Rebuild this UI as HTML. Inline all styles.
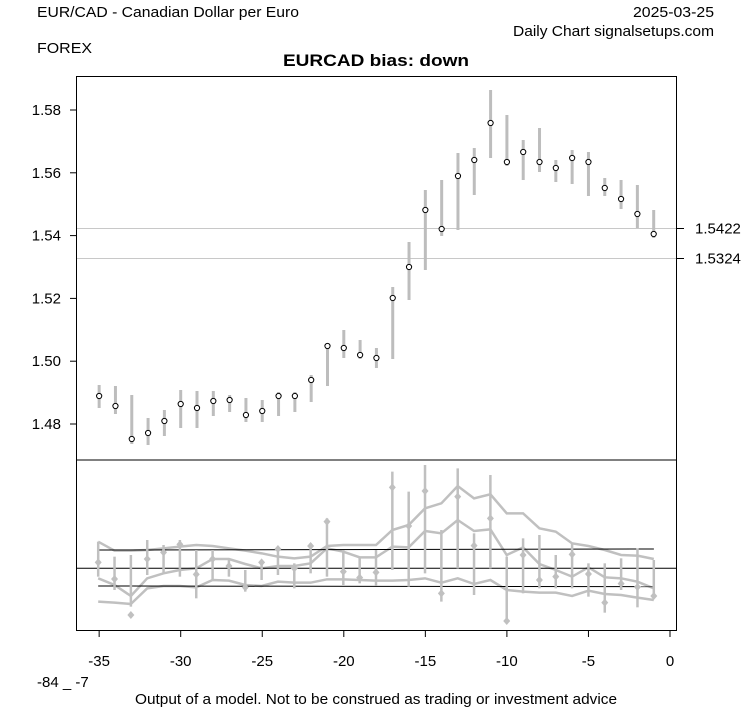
<!DOCTYPE html>
<html><head><meta charset="utf-8"><style>
html,body{margin:0;padding:0;background:#fff;}
svg{display:block;font-family:"Liberation Sans",Arial,sans-serif;}
</style></head><body>
<svg id="s" width="753" height="708" viewBox="0 0 753 708" xmlns="http://www.w3.org/2000/svg">
<rect width="753" height="708" fill="#fff"/>
<text x="37" y="17" font-size="15" textLength="262" lengthAdjust="spacingAndGlyphs">EUR/CAD - Canadian Dollar per Euro</text>
<text x="714" y="17" font-size="15" text-anchor="end" textLength="81" lengthAdjust="spacingAndGlyphs">2025-03-25</text>
<text x="714" y="36" font-size="15" text-anchor="end" textLength="201" lengthAdjust="spacingAndGlyphs">Daily Chart signalsetups.com</text>
<text x="37" y="53" font-size="15" textLength="55" lengthAdjust="spacingAndGlyphs">FOREX</text>
<text x="376" y="66" font-size="17" font-weight="bold" text-anchor="middle" textLength="186" lengthAdjust="spacingAndGlyphs">EURCAD bias: down</text>
<g id="g"></g>
<text x="37" y="687" font-size="15">-84 _ -7</text>
<text x="376" y="704" font-size="15" text-anchor="middle" textLength="482" lengthAdjust="spacingAndGlyphs">Output of a model. Not to be construed as trading or investment advice</text>
</svg>
<script>
(function(){
var g=document.getElementById('g'),h='';
function X(d){return 670+d*16.31;}
function Y(v){return 110+(1.58-v)/0.02*62.8;}
h+='<line x1="76" y1="228.5" x2="677" y2="228.5" stroke="#c8c8c8"/>';
h+='<line x1="76" y1="258.5" x2="677" y2="258.5" stroke="#c8c8c8"/>';
var tp=[[396,385,408],[406,386,414],[439,395,444],[433,418,445],[421,410,436],[404,390,428],[408,391,428],[401,391,416],[400,395,412],[415,398,422],[411,400,422],[396,392,416],[396,392,412],[380,375,402],[346,344,386],[348,330,358],[355,340,359],[358,348,368],[298,287,359],[267,242,300],[210,190,270],[229,180,236],[176,153,230],[160,148,195],[123,90,158],[162,115,166],[152,140,180],[162,128,172],[168,160,182],[158,150,184],[162,152,196],[188,178,196],[199,180,209],[214,185,228],[234,210,238]];
for(var i=0;i<tp.length;i++){var x=X(-35+i),p=tp[i];
h+='<line x1="'+x+'" y1="'+p[1]+'" x2="'+x+'" y2="'+p[2]+'" stroke="#bdbdbd" stroke-width="3"/>';}
for(var i=0;i<tp.length;i++){var x=X(-35+i);h+='<circle cx="'+x+'" cy="'+tp[i][0]+'" r="2.6" fill="#fff" stroke="#000" stroke-width="1"/>';}
[1.58,1.56,1.54,1.52,1.50,1.48].forEach(function(v){var y=Y(v);
h+='<line x1="70" y1="'+y+'" x2="76" y2="'+y+'" stroke="#000"/>';
h+='<text x="61" y="'+(y+5)+'" font-size="15" text-anchor="end">'+v.toFixed(2)+'</text>';});
[[228.5,'1.5422'],[258.5,'1.5324']].forEach(function(a){
h+='<line x1="677" y1="'+a[0]+'" x2="684" y2="'+a[0]+'" stroke="#000"/>';
h+='<text x="695" y="'+(a[0]+5)+'" font-size="15">'+a[1]+'</text>';});
function bx(z){return 76+z/2.613;} function by(z){return 460+z/3;}
function pl(arr){var s='';for(var i=0;i<arr.length;i++){s+=bx(58+i*42.7)+','+by(arr[i])+' ';}return s;}
var up=[245,272,272,270,265,260,255,258,265,272,280,290,295,290,258,255,255,255,210,195,145,130,78,115,103,160,160,205,215,250,258,270,285,287,297];
var mid=[355,375,408,355,340,330,325,297,297,312,325,318,318,310,265,275,292,292,260,262,213,220,180,213,208,285,262,312,330,350,322,352,355,365,385];
var lo=[425,428,432,385,378,378,382,360,362,375,378,365,368,368,358,358,360,362,362,360,355,368,355,372,360,390,395,398,398,408,392,402,405,413,420];
[up,mid,lo].forEach(function(a){h+='<polyline points="'+pl(a)+'" fill="none" stroke="#c0c0c0" stroke-width="2.5"/>';});
h+='<line x1="'+bx(58)+'" y1="'+by(270)+'" x2="'+bx(1510)+'" y2="'+by(267)+'" stroke="#000"/>';
h+='<line x1="'+bx(58)+'" y1="'+by(378)+'" x2="'+bx(1510)+'" y2="'+by(380)+'" stroke="#000"/>';
h+='<line x1="76" y1="568.3" x2="677" y2="568.3" stroke="#000"/>';
var pts=[[307,245,350],[357,290,390],[465,285,440],[297,240,345],[277,255,340],[253,240,350],[343,270,415],[297,270,360],[318,300,350],[382,330,395],[307,300,360],[267,260,345],[325,310,385],[258,250,340],[185,175,350],[335,270,375],[353,290,370],[337,270,378],[82,35,330],[198,95,380],[93,15,340],[400,210,425],[110,25,325],[257,220,405],[175,45,325],[483,290,490],[285,235,400],[360,225,385],[350,285,385],[283,250,385],[342,310,410],[428,310,458],[371,295,390],[381,265,442],[408,300,415]];
for(var i=0;i<pts.length;i++){var x=bx(58+i*42.7),p=pts[i];
h+='<line x1="'+x+'" y1="'+by(p[1])+'" x2="'+x+'" y2="'+by(p[2])+'" stroke="#c0c0c0" stroke-width="2.5"/>';
var y=by(p[0]);h+='<polygon points="'+x+','+(y-4)+' '+(x+3.5)+','+y+' '+x+','+(y+4)+' '+(x-3.5)+','+y+'" fill="#c0c0c0"/>';}
h+='<rect x="76.5" y="76.5" width="600" height="554" fill="none" stroke="#000"/>';
h+='<line x1="76" y1="460" x2="677" y2="460" stroke="#000"/>';
[-35,-30,-25,-20,-15,-10,-5,0].forEach(function(d){var x=X(d);
h+='<line x1="'+x+'" y1="631" x2="'+x+'" y2="637" stroke="#000"/>';
h+='<text x="'+x+'" y="666" font-size="15" text-anchor="middle">'+d+'</text>';});
g.innerHTML=h;
})();
</script>
</body></html>
